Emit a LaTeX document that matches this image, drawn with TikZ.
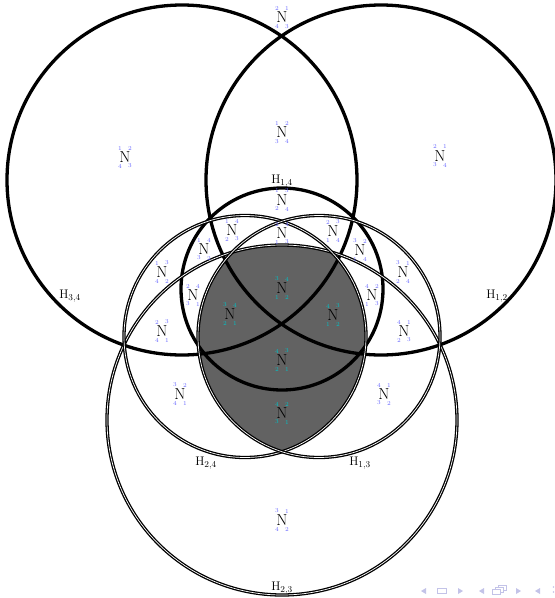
\documentclass[tikz,border=0pt]{standalone}
\definecolor{digblue}{RGB}{105,105,255}
\definecolor{digcyan}{RGB}{0,195,200}
\definecolor{shadegray}{RGB}{98,98,98}
\definecolor{navc}{RGB}{195,195,232}
\tikzset{
  thickc/.style={line width=3.3pt},
  dblc/.style={double=white, line width=1.3pt, double distance=0.7pt},
  nglyph/.style={inner sep=0pt, font=\fontsize{16}{16}\selectfont},
  dig/.style={inner sep=0pt, font=\fontsize{6}{6}\selectfont},
  hlab/.style={inner sep=0pt, font=\fontsize{12.5}{13}\selectfont},
}
\newcommand\permN[8]{%
  \node[nglyph] (#1) at (#2,#3) {N};
  \node[dig,text=#4] (#1tl) at ([shift={(-5pt,9pt)}]#1.center) {#5};
  \node[dig,text=#4] (#1tr) at ([shift={(5pt,9pt)}]#1.center) {#6};
  \node[dig,text=#4] (#1bl) at ([shift={(-5pt,-9pt)}]#1.center) {#7};
  \node[dig,text=#4] (#1br) at ([shift={(5pt,-9pt)}]#1.center) {#8};
}
\begin{document}
\begin{tikzpicture}[x=1pt,y=-1pt]
\useasboundingbox (0,0) rectangle (555,598);
\fill[white] (0,0) rectangle (555,598);
% shaded region
\begin{scope}
  \clip (282,420) circle[radius=175pt];
  \clip (245,336.5) circle[radius=121pt];
  \fill[shadegray] (319,336.5) circle[radius=121pt];
\end{scope}
% circles
\draw[thickc] (182,180) circle[radius=175pt];
\draw[thickc] (381,180) circle[radius=175pt];
\draw[thickc] (282,289) circle[radius=101pt];
\draw[dblc] (282,420) circle[radius=175pt];
\draw[dblc] (245,336.5) circle[radius=121pt];
\draw[dblc] (319,336.5) circle[radius=121pt];
% labels of hyperplanes
\node[hlab] (h34) at (70,296) {H$_{3,4}$};
\node[hlab] (h12) at (497,296) {H$_{1,2}$};
\node[hlab] (h14) at (282,181) {H$_{1,4}$};
\node[hlab] (h24) at (206,463) {H$_{2,4}$};
\node[hlab] (h13) at (360,463) {H$_{1,3}$};
\node[hlab] (h23) at (282,588) {H$_{2,3}$};
% regions
\permN{r1}{282}{17.5}{digblue}{2}{1}{4}{3}
\permN{r2}{125}{157}{digblue}{1}{2}{4}{3}
\permN{r3}{440}{156}{digblue}{2}{1}{3}{4}
\permN{r4}{282}{132.5}{digblue}{1}{2}{3}{4}
\permN{r5}{282}{200}{digblue}{1}{3}{2}{4}
\permN{r6}{282}{233}{digblue}{2}{4}{1}{3}
\permN{r7}{232}{230}{digblue}{1}{4}{2}{3}
\permN{r8}{333}{231}{digblue}{2}{3}{1}{4}
\permN{r9}{204}{249}{digblue}{1}{4}{3}{2}
\permN{r10}{360}{250}{digblue}{3}{2}{1}{4}
\permN{r11}{162}{272}{digblue}{1}{3}{4}{2}
\permN{r12}{403}{272}{digblue}{3}{1}{2}{4}
\permN{r13}{193}{295}{digblue}{2}{4}{3}{1}
\permN{r14}{372}{295}{digblue}{4}{2}{1}{3}
\permN{r15}{282}{288}{digcyan}{3}{4}{1}{2}
\permN{r16}{230}{314}{digcyan}{3}{4}{2}{1}
\permN{r17}{333}{315}{digcyan}{4}{3}{1}{2}
\permN{r18}{162}{331}{digblue}{2}{3}{4}{1}
\permN{r19}{404}{331}{digblue}{4}{1}{2}{3}
\permN{r20}{282}{360}{digcyan}{4}{3}{2}{1}
\permN{r21}{282}{413}{digcyan}{4}{2}{3}{1}
\permN{r22}{180}{394}{digblue}{3}{2}{4}{1}
\permN{r23}{384}{394}{digblue}{4}{1}{3}{2}
\permN{r24}{282}{520}{digblue}{3}{1}{4}{2}
% navigation symbols
\fill[navc] (426,588) -- (426,594) -- (421,591) -- cycle;
\draw[navc, line width=0.8pt] (437,588.5) rectangle (446,593.5);
\fill[navc] (458,588) -- (458,594) -- (463,591) -- cycle;
\fill[navc] (484,588) -- (484,594) -- (479,591) -- cycle;
\draw[navc, line width=0.7pt, fill=white] (498,585) rectangle (506,590.5);
\draw[navc, line width=0.7pt, fill=white] (495,587) rectangle (503,592.5);
\draw[navc, line width=0.7pt, fill=white] (492,589) rectangle (500,594.5);
\fill[navc] (516,588) -- (516,594) -- (521,591) -- cycle;
\fill[navc] (540,588) -- (540,594) -- (535,591) -- cycle;
\fill[navc] (553.5,587) circle[radius=0.9pt];
\fill[navc] (553.5,592) circle[radius=0.9pt];
\end{tikzpicture}
\end{document}
